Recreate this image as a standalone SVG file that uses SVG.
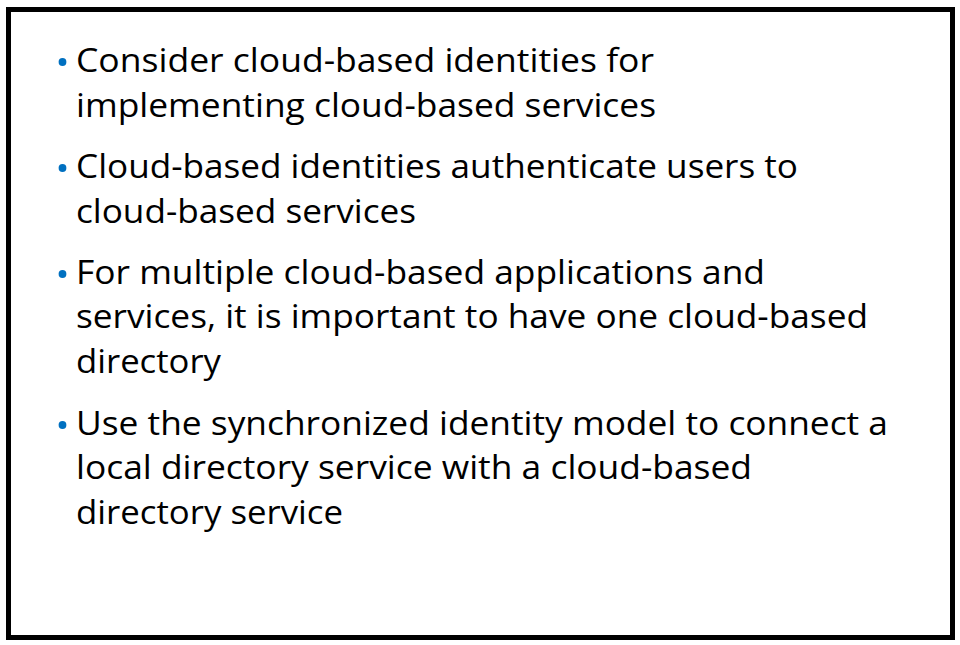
<svg xmlns="http://www.w3.org/2000/svg" width="960" height="645" viewBox="0 0 960 645">
<style>
.t{font-family:"Open Sans","Noto Sans","Liberation Sans",sans-serif;font-size:33px;fill:#000}
.b{fill:#0070C0}
</style>
<rect x="0" y="0" width="960" height="645" fill="#fff"/>
<rect id="frame" x="8.5" y="9.5" width="944" height="628" fill="#fff" stroke="#000" stroke-width="5"/>
<g id="bullet1">
<circle class="b" cx="62.5" cy="62" r="3.9"/>
<text class="t" x="76" y="72" textLength="578" lengthAdjust="spacingAndGlyphs">Consider cloud-based identities for</text>
<text class="t" x="76" y="117" textLength="580" lengthAdjust="spacingAndGlyphs">implementing cloud-based services</text>
</g>
<g id="bullet2">
<circle class="b" cx="62.5" cy="168" r="3.9"/>
<text class="t" x="76" y="178" textLength="722" lengthAdjust="spacingAndGlyphs">Cloud-based identities authenticate users to</text>
<text class="t" x="76" y="223" textLength="340" lengthAdjust="spacingAndGlyphs">cloud-based services</text>
</g>
<g id="bullet3">
<circle class="b" cx="62.5" cy="274" r="3.9"/>
<text class="t" x="76" y="284" textLength="689" lengthAdjust="spacingAndGlyphs">For multiple cloud-based applications and</text>
<text class="t" x="76" y="328" textLength="792" lengthAdjust="spacingAndGlyphs">services, it is important to have one cloud-based</text>
<text class="t" x="76" y="373" textLength="145" lengthAdjust="spacingAndGlyphs">directory</text>
</g>
<g id="bullet4">
<circle class="b" cx="62.5" cy="425" r="3.9"/>
<text class="t" x="76" y="435" textLength="812" lengthAdjust="spacingAndGlyphs">Use the synchronized identity model to connect a</text>
<text class="t" x="76" y="479" textLength="676" lengthAdjust="spacingAndGlyphs">local directory service with a cloud-based</text>
<text class="t" x="76" y="524" textLength="267" lengthAdjust="spacingAndGlyphs">directory service</text>
</g>
</svg>
